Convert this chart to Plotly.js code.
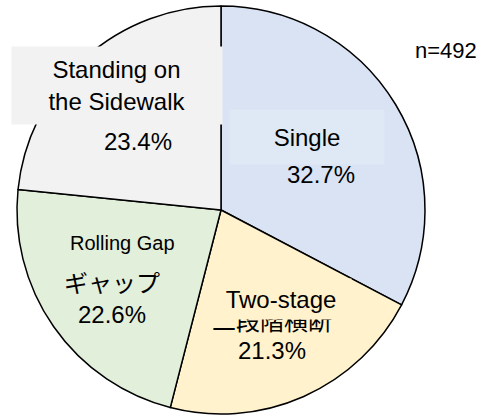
<!DOCTYPE html>
<html>
<head>
<meta charset="utf-8">
<script src="https://cdn.plot.ly/plotly-3.0.1.min.js"></script>
<style>html,body{margin:0;padding:0;background:#fff;}#chart{width:487px;height:416px;}</style>
</head>
<body>
<div id="chart"></div>
<script>
// ---- data ----
const categories = ['Single', 'Two-stage', 'Rolling Gap', 'Standing on the Sidewalk'];
const labelLines = ['Single', 'Two-stage', 'Rolling Gap', 'Standing on<br>the Sidewalk'];
const labelsJP = ['', '二段階横断', 'ギャップ', ''];
const percents = [32.7, 21.3, 22.6, 23.4];
const sampleSize = 492;

// ---- styles ----
const W = 487, H = 416;
const sliceColors = ['#dae3f3', '#fff2cc', '#e2efda', '#f2f2f2'];
const FONT = 'Liberation Sans, Arial, Noto Sans CJK JP, sans-serif';
const px = x => x / W;
const py = y => 1 - y / H;

// pie geometry (pixels)
const cx = 221, cy = 210, r = 204;

const trace = {
  type: 'pie',
  labels: categories,
  values: percents,
  sort: false,
  direction: 'clockwise',
  rotation: 0,
  textinfo: 'none',
  hoverinfo: 'skip',
  marker: { colors: sliceColors, line: { color: '#000000', width: 1.5 } },
  domain: { x: [px(cx - r), px(cx + r)], y: [py(cy + r), py(cy - r)] }
};

// label placement (pixels) per category
const nameStyle = [
  { x: 307, y: 137, size: 24, bg: '#dfe8f5', w: 154, h: 54 },
  { x: 281, y: 299, size: 24, bg: '#fff2cc', w: 140, h: 40 },
  { x: 122, y: 243, size: 20, bg: null },
  { x: 117, y: 85, size: 24, bg: '#f2f2f2', w: 210, h: 77 }
];
const jpStyle = [null, { x: 272, y: 321, size: 24 }, { x: 112, y: 283, size: 24 }, null];
const pctStyle = [
  { x: 321, y: 175 }, { x: 272, y: 350 }, { x: 112, y: 314 }, { x: 138, y: 141 }
];

const annotations = [];
for (let i = 0; i < categories.length; i++) {
  if (labelsJP[i] && jpStyle[i]) {
    annotations.push({
      xref: 'paper', yref: 'paper', x: px(jpStyle[i].x), y: py(jpStyle[i].y),
      xanchor: 'center', yanchor: 'middle', showarrow: false,
      text: labelsJP[i], font: { family: FONT, size: jpStyle[i].size, color: '#000' }
    });
  }
}
for (let i = 0; i < categories.length; i++) {
  const s = nameStyle[i];
  const a = {
    xref: 'paper', yref: 'paper', x: px(s.x), y: py(s.y),
    xanchor: 'center', yanchor: 'middle', showarrow: false,
    text: labelLines[i], font: { family: FONT, size: s.size, color: '#000' },
    borderpad: 0
  };
  if (s.bg) { a.bgcolor = s.bg; a.width = s.w; a.height = s.h; }
  annotations.push(a);
  annotations.push({
    xref: 'paper', yref: 'paper', x: px(pctStyle[i].x), y: py(pctStyle[i].y),
    xanchor: 'center', yanchor: 'middle', showarrow: false,
    text: percents[i].toFixed(1) + '%', font: { family: FONT, size: 24, color: '#000' }
  });
}
annotations.push({
  xref: 'paper', yref: 'paper', x: px(446), y: py(50),
  xanchor: 'center', yanchor: 'middle', showarrow: false,
  text: 'n=' + sampleSize, font: { family: FONT, size: 22, color: '#000' }
});

const layout = {
  width: W, height: H,
  margin: { l: 0, r: 0, t: 0, b: 0 },
  paper_bgcolor: '#ffffff',
  showlegend: false,
  annotations: annotations
};

Plotly.newPlot('chart', [trace], layout, { displayModeBar: false, staticPlot: true });
</script>
</body>
</html>
